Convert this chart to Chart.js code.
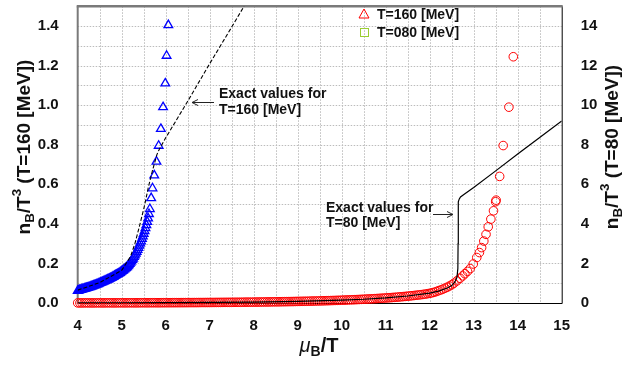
<!DOCTYPE html>
<html><head><meta charset="utf-8">
<script src="https://cdn.jsdelivr.net/npm/chart.js@4.4.0/dist/chart.umd.min.js"></script>
<style>html,body{margin:0;padding:0;background:#fff}canvas{display:block}</style>
</head><body>
<canvas id="c" width="622" height="366"></canvas>
<script>
// ---- data ----
// T=160 series (blue triangles, left axis)
const blueX = [4.00,4.02,4.04,4.06,4.08,4.10,4.12,4.14,4.16,4.18,4.20,4.22,4.24,4.26,4.28,4.30,4.32,4.34,4.36,4.38,4.40,4.42,4.44,4.46,4.48,4.50,4.52,4.54,4.56,4.58,4.60,4.62,4.64,4.66,4.68,4.70,4.72,4.74,4.76,4.78,4.80,4.82,4.84,4.86,4.88,4.90,4.92,4.94,4.96,4.98,5.00,5.02,5.04,5.06,5.08,5.10,5.12,5.14,5.16,5.18,5.20,5.22,5.24,5.26,5.28,5.30,5.32,5.34,5.36,5.38,5.40,5.42,5.44,5.46,5.48,5.50,5.52,5.54,5.56,5.58,5.60,5.62,5.64,5.67,5.70,5.74,5.79,5.84,5.89,5.94,5.99,6.02,6.06];
const blueY = [0.062,0.063,0.065,0.066,0.067,0.069,0.070,0.071,0.073,0.074,0.075,0.077,0.078,0.080,0.081,0.083,0.084,0.086,0.088,0.089,0.091,0.093,0.094,0.096,0.098,0.100,0.102,0.104,0.106,0.108,0.110,0.112,0.114,0.116,0.118,0.120,0.122,0.125,0.127,0.129,0.132,0.134,0.137,0.140,0.142,0.145,0.148,0.150,0.153,0.156,0.160,0.163,0.166,0.170,0.174,0.178,0.182,0.187,0.192,0.198,0.204,0.211,0.218,0.225,0.233,0.241,0.250,0.259,0.269,0.279,0.290,0.301,0.312,0.324,0.337,0.350,0.364,0.379,0.394,0.410,0.428,0.450,0.475,0.530,0.580,0.645,0.715,0.795,0.880,0.990,1.110,1.250,1.405];
// T=80 series (red circles, right axis)
const redX = [4.00,4.05,4.10,4.15,4.20,4.25,4.30,4.35,4.40,4.45,4.50,4.55,4.60,4.65,4.70,4.75,4.80,4.85,4.90,4.95,
5.00,5.05,5.10,5.15,5.20,5.25,5.30,5.35,5.40,5.45,5.50,5.55,5.60,5.65,5.70,5.75,5.80,5.85,5.90,5.95,
6.00,6.05,6.10,6.15,6.20,6.25,6.30,6.35,6.40,6.45,6.50,6.55,6.60,6.65,6.70,6.75,6.80,6.85,6.90,6.95,
7.00,7.05,7.10,7.15,7.20,7.25,7.30,7.35,7.40,7.45,7.50,7.55,7.60,7.65,7.70,7.75,7.80,7.85,7.90,7.95,
8.00,8.05,8.10,8.15,8.20,8.25,8.30,8.35,8.40,8.45,8.50,8.55,8.60,8.65,8.70,8.75,8.80,8.85,8.90,8.95,
9.00,9.05,9.10,9.15,9.20,9.25,9.30,9.35,9.40,9.45,9.50,9.55,9.60,9.65,9.70,9.75,9.80,9.85,9.90,9.95,
10.00,10.05,10.10,10.15,10.20,10.25,10.30,10.35,10.40,10.45,10.50,10.55,10.60,10.65,10.70,10.75,10.80,10.85,10.90,10.95,
11.00,11.05,11.10,11.15,11.20,11.25,11.30,11.35,11.40,11.45,11.50,11.55,11.60,11.65,11.70,11.75,11.80,11.85,11.90,11.95,
12.00,12.05,12.10,12.15,12.20,12.25,12.30,12.35,12.40,12.45,12.50,12.55,12.62,12.69,12.75,12.80,12.86,12.92,12.99,13.07,13.13,13.18,13.23,13.28,13.33,13.39,13.45,13.50,13.51,13.59,13.67,13.80,13.90];
const redY = [0.005,0.005,0.005,0.006,0.006,0.006,0.006,0.006,0.006,0.007,0.007,0.007,0.007,0.008,0.008,0.008,0.008,0.008,0.008,0.009,
0.009,0.009,0.009,0.010,0.010,0.010,0.010,0.011,0.011,0.012,0.012,0.012,0.012,0.013,0.013,0.014,0.014,0.014,0.014,0.015,
0.015,0.016,0.016,0.017,0.017,0.018,0.018,0.019,0.019,0.020,0.020,0.021,0.021,0.022,0.022,0.023,0.024,0.025,0.025,0.026,
0.026,0.027,0.028,0.029,0.029,0.030,0.031,0.032,0.033,0.034,0.034,0.035,0.036,0.037,0.038,0.040,0.041,0.042,0.043,0.044,
0.045,0.047,0.048,0.050,0.051,0.053,0.054,0.056,0.057,0.059,0.060,0.062,0.064,0.066,0.067,0.069,0.071,0.073,0.075,0.078,
0.080,0.082,0.084,0.087,0.089,0.092,0.095,0.098,0.100,0.103,0.106,0.110,0.113,0.116,0.119,0.123,0.126,0.130,0.134,0.138,
0.142,0.146,0.150,0.155,0.159,0.164,0.169,0.174,0.179,0.185,0.190,0.196,0.201,0.207,0.213,0.220,0.226,0.233,0.240,0.248,
0.255,0.262,0.270,0.279,0.287,0.296,0.305,0.315,0.325,0.335,0.346,0.357,0.369,0.381,0.394,0.407,0.420,0.435,0.450,0.470,
0.490,0.515,0.540,0.580,0.620,0.660,0.700,0.750,0.800,0.860,0.920,1.000,1.120,1.250,1.370,1.480,1.600,1.740,1.970,2.300,2.550,2.800,3.130,3.470,3.850,4.240,4.660,5.120,5.200,6.400,7.960,9.900,12.450];
// exact values, T=160 (dashed, left axis)
const exact160X = [4.0,4.5,5.0,5.2,5.3,5.4,5.45,5.5,5.55,5.6,5.65,5.7,5.75,5.8,5.85,5.9,6.0,6.5,7.0,7.5,7.78];
const exact160Y = [0.065,0.103,0.165,0.235,0.30,0.385,0.43,0.475,0.525,0.58,0.625,0.67,0.71,0.75,0.775,0.795,0.835,1.02,1.21,1.395,1.5];
// exact values, T=80 (solid, right axis)
const exact80X = [4.0,5.0,6.0,7.0,8.0,9.0,10.0,10.5,11.0,11.5,12.0,12.2,12.4,12.5,12.57,12.62,12.64,12.645,12.65,12.67,12.70,12.8,13.0,13.5,14.0,14.5,15.0];
const exact80Y = [0.005,0.01,0.018,0.028,0.045,0.08,0.145,0.19,0.26,0.355,0.5,0.6,0.76,0.88,1.05,1.3,1.75,3.0,5.12,5.25,5.36,5.52,5.84,6.68,7.53,8.37,9.2];

const legendLabels = ['T=160 [MeV]', 'T=080 [MeV]'];
const annot160 = ['Exact values for', 'T=160 [MeV]'];
const annot80 = ['Exact values for', 'T=80 [MeV]'];

const FONT = '"Liberation Sans", Arial, sans-serif';
const pts = (xs, ys) => xs.map((x, i) => ({x, y: ys[i]}));

function fontOf(s, base) {
  const size = (s.sub || s.sup) ? base * 0.7 : base;
  return (s.italic ? 'italic ' : '') + (s.normal ? '' : 'bold ') + size + 'px ' + FONT;
}
function drawRich(ctx, segs, x, y, rot, base) {
  ctx.save();
  ctx.translate(x, y);
  ctx.rotate(rot);
  let w = 0;
  for (const s of segs) { ctx.font = fontOf(s, base); w += ctx.measureText(s.t).width; }
  let cx = -w / 2;
  ctx.textAlign = 'left'; ctx.textBaseline = 'alphabetic'; ctx.fillStyle = '#111';
  for (const s of segs) {
    ctx.font = fontOf(s, base);
    const dy = s.sub ? base * 0.22 : (s.sup ? -base * 0.45 : 0);
    ctx.fillText(s.t, cx, dy);
    cx += ctx.measureText(s.t).width;
  }
  ctx.restore();
}
function arrow(ctx, x1, y, x2) {
  ctx.save();
  ctx.strokeStyle = '#222'; ctx.lineWidth = 1;
  ctx.beginPath(); ctx.moveTo(x1, y); ctx.lineTo(x2, y); ctx.stroke();
  const d = x2 < x1 ? 1 : -1;
  ctx.beginPath(); ctx.moveTo(x2 + d * 6, y - 3); ctx.lineTo(x2, y); ctx.lineTo(x2 + d * 6, y + 3); ctx.stroke();
  ctx.restore();
}

const decor = {
  id: 'decor',
  beforeDatasetsDraw(chart) {
    const {ctx, chartArea: a, scales} = chart;
    ctx.save();
    // dotted grid from the scales' ticks
    ctx.strokeStyle = '#bcbcbc'; ctx.lineWidth = 1; ctx.setLineDash([1.5, 1.5]);
    const xs = scales.x, ys = scales.y;
    for (let i = 0; i < xs.ticks.length; i++) {
      const px = Math.round(xs.getPixelForValue(xs.ticks[i].value)) + 0.5;
      if (px <= a.left + 1 || px >= a.right - 1) continue;
      ctx.beginPath(); ctx.moveTo(px, a.top); ctx.lineTo(px, a.bottom); ctx.stroke();
    }
    for (let i = 0; i < ys.ticks.length; i++) {
      const py = Math.round(ys.getPixelForValue(ys.ticks[i].value)) + 0.5;
      if (py <= a.top + 1 || py >= a.bottom - 1) continue;
      ctx.beginPath(); ctx.moveTo(a.left, py); ctx.lineTo(a.right, py); ctx.stroke();
    }
    ctx.setLineDash([]);
    ctx.strokeStyle = '#000'; ctx.lineWidth = 1;
    ctx.beginPath(); ctx.moveTo(a.left, a.bottom + 0.5); ctx.lineTo(a.right + 0.5, a.bottom + 0.5); ctx.lineTo(a.right + 0.5, a.top); ctx.stroke();
    ctx.strokeStyle = '#7a7a7a'; ctx.lineWidth = 2;
    ctx.beginPath(); ctx.moveTo(a.left, a.bottom + 1); ctx.lineTo(a.left, a.top); ctx.stroke();
    ctx.lineWidth = 2.5;
    ctx.beginPath(); ctx.moveTo(a.left - 1, a.top); ctx.lineTo(a.right + 1, a.top); ctx.stroke();
    ctx.restore();
  },
  afterDraw(chart) {
    const {ctx} = chart;
    drawRich(ctx, [{t:'n'},{t:'B',sub:true},{t:'/T'},{t:'3',sup:true},{t:' (T=160 [MeV])'}], 30, 147, -Math.PI/2, 19);
    drawRich(ctx, [{t:'n'},{t:'B',sub:true},{t:'/T'},{t:'3',sup:true},{t:' (T=80 [MeV])'}], 618, 147, -Math.PI/2, 19);
    drawRich(ctx, [{t:'\u03bc',italic:true,normal:true},{t:'B',sub:true},{t:'/T'}], 319, 352, 0, 20);
    ctx.save();
    ctx.font = 'bold 14px ' + FONT; ctx.fillStyle = '#111'; ctx.textBaseline = 'alphabetic'; ctx.textAlign = 'left';
    ctx.fillText(legendLabels[0], 377, 19);
    ctx.fillText(legendLabels[1], 377, 37);
    ctx.strokeStyle = '#ff0000'; ctx.lineWidth = 1;
    ctx.beginPath(); ctx.moveTo(364, 9); ctx.lineTo(369, 18); ctx.lineTo(359, 18); ctx.closePath(); ctx.stroke();
    ctx.strokeStyle = '#9acd32';
    ctx.strokeRect(360.5, 28.5, 8, 8);
    ctx.fillStyle = '#111';
    ctx.fillText(annot160[0], 219, 98);
    ctx.fillText(annot160[1], 219, 113.5);
    ctx.fillText(annot80[0], 326, 211.5);
    ctx.fillText(annot80[1], 326, 226.5);
    ctx.restore();
    arrow(ctx, 214, 102.5, 192);
    arrow(ctx, 433, 214.5, 453);
  }
};

const tickFont = {family: FONT, size: 15, weight: 'bold'};
new Chart(document.getElementById('c'), {
  type: 'scatter',
  data: {
    datasets: [
      {label: 'exact160', type: 'line', data: pts(exact160X, exact160Y), yAxisID: 'y', borderColor: '#000', borderWidth: 1.1, borderDash: [4, 2], pointRadius: 0, fill: false, tension: 0, order: 1},
      {label: 'exact80', type: 'line', data: pts(exact80X, exact80Y), yAxisID: 'y1', borderColor: '#000', borderWidth: 1.2, pointRadius: 0, fill: false, tension: 0, order: 1},
      {label: 'T=160', data: pts(blueX, blueY), yAxisID: 'y', pointStyle: 'triangle', pointRadius: 5, borderColor: '#0000ff', backgroundColor: 'rgba(0,0,0,0)', borderWidth: 1.3, clip: false, order: 3},
      {label: 'T=80', data: pts(redX, redY), yAxisID: 'y1', pointStyle: 'circle', pointRadius: 4.3, borderColor: '#ff0000', backgroundColor: 'rgba(0,0,0,0)', borderWidth: 1, clip: false, order: 4}
    ]
  },
  options: {
    responsive: false, animation: false, devicePixelRatio: 1,
    layout: {padding: {top: 2, left: 0, right: 0, bottom: 0}},
    plugins: {legend: {display: false}, tooltip: {enabled: false}},
    scales: {
      x: {
        type: 'linear', min: 4, max: 15,
        ticks: {stepSize: 0.5, autoSkip: false, maxRotation: 0, padding: 6, color: '#111', font: tickFont,
          callback: v => Number.isInteger(v) ? String(v) : ''},
        grid: {display: false},
        border: {display: false},
        afterFit: s => { s.height = 63; s.paddingLeft = 0; s.paddingRight = 0; }
      },
      y: {
        position: 'left', min: 0, max: 1.5,
        ticks: {stepSize: 0.1, autoSkip: false, padding: 11, color: '#111', font: tickFont,
          callback: v => (Math.round(v * 10) % 2 === 0) ? v.toFixed(1) : ''},
        grid: {display: false},
        border: {display: false},
        afterFit: s => { s.width = 77.7; s.paddingTop = 0; s.paddingBottom = 0; }
      },
      y1: {
        position: 'right', min: 0, max: 15,
        ticks: {stepSize: 2, autoSkip: false, padding: 11, color: '#111', font: tickFont,
          callback: v => (v % 2 === 0) ? String(v) : ''},
        grid: {display: false},
        border: {display: false},
        afterFit: s => { s.width = 60.3; s.paddingTop = 0; s.paddingBottom = 0; }
      }
    }
  },
  plugins: [decor]
});
</script>
</body></html>
